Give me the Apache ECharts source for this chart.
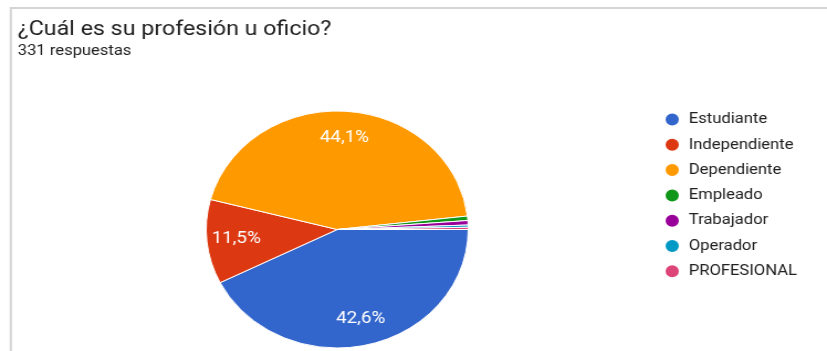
<!DOCTYPE html>
<html>
<head>
<meta charset="utf-8">
<script src="https://cdn.jsdelivr.net/npm/echarts@6/dist/echarts.min.js"></script>
<style>
html,body{margin:0;padding:0;background:#fff;overflow:hidden;}
#wrap{position:absolute;left:0;top:0;width:827px;height:351px;overflow:hidden;}
#chart{position:absolute;left:0;top:0;width:748px;height:351px;transform:scaleX(1.1056);transform-origin:0 0;}
</style>
</head>
<body>
<div id="wrap"><div id="chart"></div></div>
<script>
const titleText = '¿Cuál es su profesión u oficio?';
const subtitleText = '331 respuestas';
const categories = ['Estudiante', 'Independiente', 'Dependiente', 'Empleado', 'Trabajador', 'Operador', 'PROFESIONAL'];
const counts = [141, 38, 146, 2, 2, 1, 1];
const palette = ['#3366cc', '#dc3912', '#ff9900', '#109618', '#990099', '#0099c6', '#dd4477'];

const total = counts.reduce((a, b) => a + b, 0);
const pieData = categories.map((name, i) => ({ name: name, value: counts[i] }));
const fmt = p => {
  const pct = p.value / total * 100;
  return pct < 5 ? '' : pct.toFixed(1).replace('.', ',') + '%';
};

const chart = echarts.init(document.getElementById('chart'), null, { renderer: 'canvas' });
const R = 118.5;
const C = [305, 229.5];
chart.setOption({
  backgroundColor: '#fff',
  animation: false,
  color: palette,
  textStyle: { fontFamily: 'Roboto' },
  graphic: [{
    type: 'rect',
    shape: { x: 9.8, y: 8, width: 900, height: 500 },
    style: { fill: 'none', stroke: '#d4d4d4', lineWidth: 2 },
    silent: true
  }],
  title: [
    { text: titleText, left: 16, top: 19, padding: 0,
      textStyle: { fontFamily: 'Roboto', fontSize: 21, fontWeight: 'normal', color: '#212121', lineHeight: 21 } },
    { text: subtitleText, left: 16, top: 44, padding: 0,
      textStyle: { fontFamily: 'Roboto', fontSize: 15, fontWeight: 'normal', color: '#212121', lineHeight: 15 } }
  ],
  legend: {
    orient: 'vertical',
    left: 600,
    top: 111.5,
    padding: 0,
    icon: 'circle',
    itemWidth: 14,
    itemHeight: 14,
    itemGap: 9.3,
    selectedMode: false,
    data: categories,
    textStyle: { fontFamily: 'Roboto', fontSize: 15, lineHeight: 15, color: '#212121', padding: [0, 0, 0, 3] }
  },
  series: [
    {
      type: 'pie',
      center: C,
      radius: [0, R],
      startAngle: 0,
      clockwise: true,
      avoidLabelOverlap: false,
      label: { show: false },
      labelLine: { show: false },
      itemStyle: { borderColor: '#ffffff', borderWidth: 1 },
      emphasis: { disabled: true },
      data: pieData
    },
    {
      type: 'pie',
      center: C,
      radius: [R * 0.5, R],
      startAngle: 0,
      clockwise: true,
      silent: true,
      avoidLabelOverlap: false,
      itemStyle: { color: 'rgba(0,0,0,0)' },
      label: { show: true, position: 'inside', formatter: fmt, color: '#ffffff',
               fontFamily: 'Roboto', fontSize: 17, textBorderWidth: 0 },
      labelLine: { show: false },
      emphasis: { disabled: true },
      tooltip: { show: false },
      data: pieData
    }
  ]
});
</script>
</body>
</html>
